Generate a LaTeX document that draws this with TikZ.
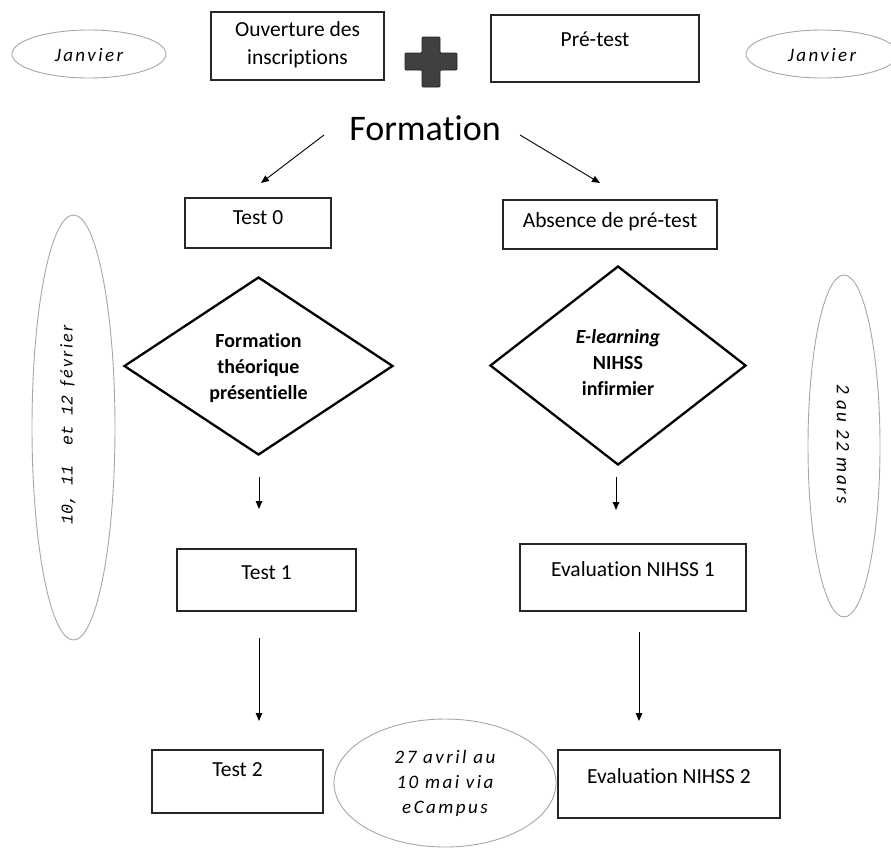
\documentclass[tikz,border=0pt]{standalone}
\usepackage{fontspec}
\setmainfont{Carlito}[Ligatures=NoCommon]
\newfontfamily\dateit{Carlito}[LetterSpace=13,Ligatures=NoCommon]
\newfontfamily\monoit{Liberation Mono}
\usetikzlibrary{shapes.geometric,arrows.meta}
\begin{document}
\begin{tikzpicture}[x=1pt,y=-1pt,
  boxnode/.style={draw=black!85,line width=1.4pt,rectangle,inner sep=0pt},
  boxtxt/.style={anchor=center,font=\fontsize{21.5}{26}\selectfont},
  datell/.style={draw=black!35,line width=0.9pt,ellipse,inner sep=0pt},
  datetxt/.style={font=\fontsize{19}{25}\selectfont\dateit\itshape,align=center},
  diam/.style={draw=black,line width=2.3pt,diamond,inner sep=0pt},
  diamtxt/.style={font=\fontsize{20}{26}\selectfont\bfseries,align=center},
  arr/.style={-{Triangle[length=8pt,width=6.5pt]},line width=0.9pt,black}]
\useasboundingbox (0,0) rectangle (891,847);
% date ellipses
\node[datell,minimum width=154pt,minimum height=48pt] (jl) at (89,54) {};
\node[datetxt] (jlt) at (89,55) {Janvier};
\node[datell,minimum width=152pt,minimum height=48pt] (jr) at (822,54) {};
\node[datetxt] (jrt) at (822,55) {Janvier};
% top boxes
\node[boxnode,minimum width=173pt,minimum height=68pt] (ouv) at (297.5,46) {};
\node[font=\fontsize{21.5}{28}\selectfont,align=center] (ouvt) at (297.5,45) {Ouverture des\\inscriptions};
\node[boxnode,minimum width=208pt,minimum height=67pt,
  label={[boxtxt,yshift=-25pt]north:Pré-test}] (pre) at (595,48.5) {};
% plus sign
\fill[black!75,draw=black!85,line width=0.8pt,rounded corners=1pt]
  (422,37) -- (440,37) -- (440,53) -- (457,53) -- (457,70) -- (440,70) -- (440,87)
  -- (422,87) -- (422,70) -- (405,70) -- (405,53) -- (422,53) -- cycle;
% title
\node[font=\fontsize{36}{42}\selectfont] (form) at (425,128) {Formation};
% second row
\node[boxnode,minimum width=146pt,minimum height=50pt,
  label={[boxtxt,yshift=-20pt]north:Test 0}] (t0) at (258,223) {};
\node[boxnode,minimum width=214pt,minimum height=49pt,
  label={[boxtxt,yshift=-22pt]north:Absence de pré-test}] (abs) at (610,224.5) {};
\coordinate (a1s) at (324,135);
\coordinate (a1e) at (261,183);
\coordinate (a2s) at (520,135);
\coordinate (a2e) at (600,183);
\draw[arr] (a1s) -- (a1e);
\draw[arr] (a2s) -- (a2e);
% diamonds
\node[diam,minimum width=269pt,minimum height=178pt] (d1) at (258.5,366) {};
\node[diamtxt] (d1t) at (258.5,368) {Formation\\théorique\\présentielle};
\node[diam,minimum width=256pt,minimum height=199pt] (d2) at (618,365.5) {};
\node[diamtxt] (d2t) at (618,362.5) {\itshape E-learning\\NIHSS\\infirmier};
% tall date ellipses
\node[datell,minimum width=83pt,minimum height=425pt] (el) at (73.5,427.5) {};
\node[rotate=90,font=\fontsize{16.5}{20}\selectfont] (elt) at (68,425)
  {{\monoit\itshape 10, 11\ \ et 12 }{\fontsize{18}{20}\selectfont\dateit\itshape février}};
\node[datell,minimum width=72pt,minimum height=342pt] (er) at (844,446) {};
\node[rotate=-90,datetxt] (ert) at (843,444) {2 au 22 mars};
% third row
\coordinate (b1s) at (259,477);
\coordinate (b1e) at (259,509);
\coordinate (b2s) at (616,477);
\coordinate (b2e) at (616,510);
\draw[arr] (b1s) -- (b1e);
\draw[arr] (b2s) -- (b2e);
\node[boxnode,minimum width=179pt,minimum height=62pt,
  label={[boxtxt,yshift=-24pt]north:Test 1}] (t1) at (266.5,580) {};
\node[boxnode,minimum width=226pt,minimum height=67pt,
  label={[boxtxt,yshift=-26pt]north:Evaluation NIHSS 1}] (e1) at (633,577.5) {};
% bottom row
\coordinate (c1s) at (259,638);
\coordinate (c1e) at (259,721);
\coordinate (c2s) at (639,632);
\coordinate (c2e) at (639,721);
\draw[arr] (c1s) -- (c1e);
\draw[arr] (c2s) -- (c2e);
\node[boxnode,minimum width=171pt,minimum height=63pt,
  label={[boxtxt,yshift=-20pt]north:Test 2}] (t2) at (237.5,781.5) {};
\node[boxnode,minimum width=222pt,minimum height=68pt,
  label={[boxtxt,yshift=-27pt]north:Evaluation NIHSS 2}] (e2) at (669,784) {};
\node[datell,minimum width=222pt,minimum height=128pt] (ec) at (445,783) {};
\node[datetxt] (ect) at (445,783) {27 avril au\\10 mai via\\eCampus};
\end{tikzpicture}
\end{document}
